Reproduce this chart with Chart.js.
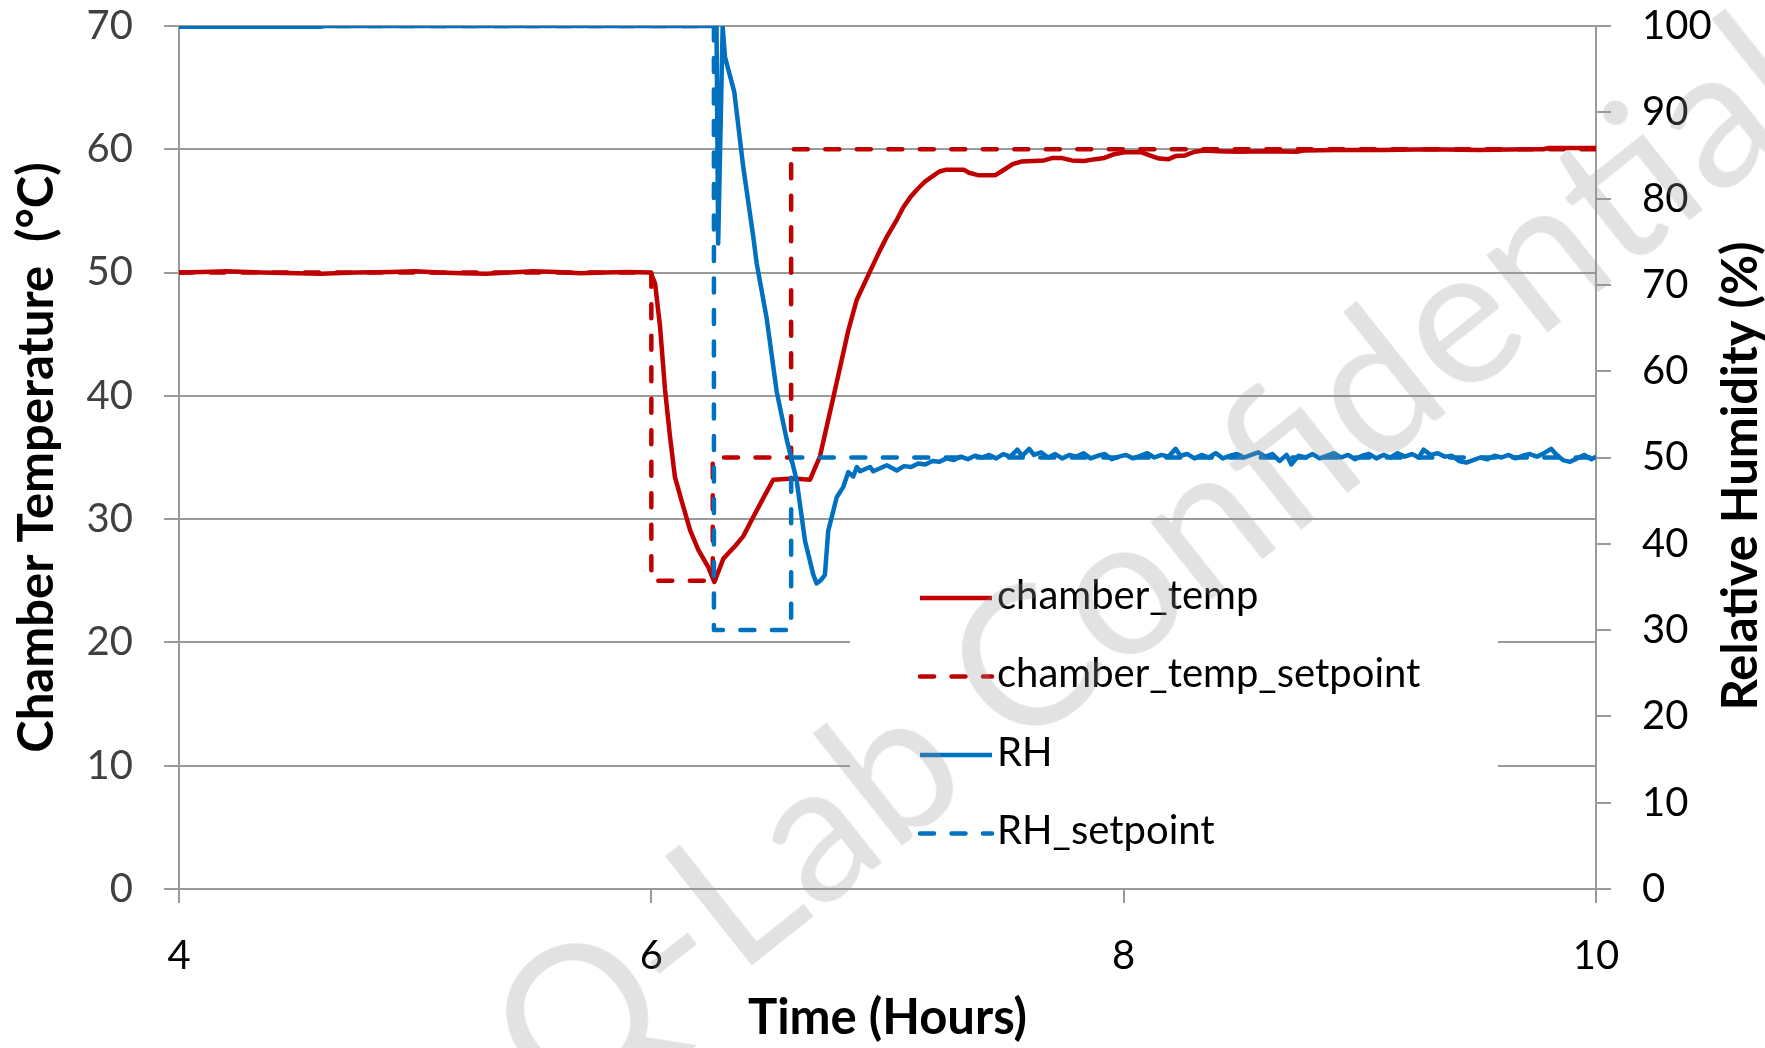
<!DOCTYPE html>
<html>
<head>
<meta charset="utf-8">
<title>Chamber temperature and relative humidity</title>
<script src="https://cdn.jsdelivr.net/npm/chart.js@4.4.1/dist/chart.umd.min.js"></script>
<style>
  html, body { margin: 0; padding: 0; background: #ffffff; }
  #wrap { position: relative; width: 1765px; height: 1048px; overflow: hidden; }
  #c { display: block; }
  #watermark {
    position: absolute; left: 1146px; top: 556px;
    transform: translate(-50%, -50%) rotate(-38.5deg);
    font-family: Lato, sans-serif; font-size: 194px; line-height: 1;
    color: rgba(150, 150, 150, 0.28); white-space: nowrap; pointer-events: none;
  }
</style>
</head>
<body>
<div id="wrap">
  <canvas id="c" width="1765" height="1048"></canvas>
  <div id="watermark">Q-Lab Confidential</div>
</div>
<script>
// Series names, in legend order
const seriesNames = ['chamber_temp', 'chamber_temp_setpoint', 'RH', 'RH_setpoint'];

// Measured chamber temperature (°C) against elapsed time (hours)
const tempTime = [
  4.00, 4.10, 4.20, 4.35, 4.50, 4.60, 4.75, 4.90, 5.00, 5.10, 5.20, 5.30, 5.40, 5.50, 5.60, 5.70, 5.80, 5.90,
  5.997, 6.016, 6.037, 6.058, 6.079, 6.100, 6.128, 6.164, 6.199, 6.241, 6.267, 6.305, 6.354, 6.389, 6.432,
  6.474, 6.516, 6.601, 6.672, 6.714, 6.771, 6.834, 6.870, 6.926, 6.968, 7.000, 7.040, 7.067, 7.100, 7.128,
  7.160, 7.190, 7.220, 7.250, 7.323, 7.345, 7.383, 7.457, 7.490, 7.530, 7.566, 7.663, 7.700, 7.735, 7.780,
  7.832, 7.880, 7.918, 7.960, 8.003, 8.076, 8.110, 8.150, 8.190, 8.220, 8.260, 8.300, 8.343, 8.400, 8.489,
  8.600, 8.733, 8.760, 8.900, 9.100, 9.300, 9.500, 9.700, 9.777, 9.800, 10.00
];
const tempVal = [
  50.0, 50.05, 50.1, 50.0, 49.95, 49.9, 50.0, 50.05, 50.1, 50.0, 49.95, 49.9, 50.0, 50.1, 50.05, 49.95, 50.0, 50.05,
  50.0, 49.1, 45.6, 40.5, 36.7, 33.4, 31.5, 29.1, 27.5, 26.1, 24.9, 26.8, 27.8, 28.6, 30.2,
  31.7, 33.2, 33.3, 33.2, 35.1, 39.9, 45.3, 47.8, 50.1, 51.8, 53.0, 54.3, 55.3, 56.2, 56.8,
  57.4, 57.8, 58.2, 58.35, 58.35, 58.1, 57.9, 57.9, 58.3, 58.8, 59.0, 59.1, 59.3, 59.3, 59.1,
  59.05, 59.2, 59.3, 59.6, 59.75, 59.75, 59.5, 59.25, 59.2, 59.45, 59.5, 59.8, 59.9, 59.85, 59.8,
  59.85, 59.8, 59.9, 59.95, 59.95, 60.0, 59.95, 60.0, 60.0, 60.1, 60.1
];

// Temperature setpoint (°C): value held from each time until the next one
const spTempTime = [4.0, 6.0, 6.26, 6.592, 10.0];
const spTempVal  = [50, 25, 35, 60, 60];

// Measured relative humidity (%) against elapsed time (hours)
const rhTime = [
  4.00, 4.60, 4.62, 6.276, 6.283, 6.302, 6.312, 6.351, 6.389, 6.432, 6.446, 6.488, 6.531, 6.573, 6.615, 6.651,
  6.686, 6.700, 6.718, 6.735, 6.749, 6.785, 6.813, 6.834, 6.855, 6.870, 6.884, 6.926, 6.940, 6.997, 7.039,
  7.07, 7.10, 7.13, 7.16, 7.19, 7.22, 7.25, 7.28, 7.31, 7.34, 7.37, 7.40, 7.43, 7.46, 7.49, 7.52, 7.55,
  7.57, 7.60, 7.62, 7.65, 7.68, 7.71, 7.74, 7.77, 7.80, 7.83, 7.86, 7.89, 7.92, 7.95, 7.98, 8.01, 8.04,
  8.07, 8.10, 8.13, 8.16, 8.19, 8.22, 8.24, 8.27, 8.30, 8.33, 8.36, 8.39, 8.42, 8.45, 8.48, 8.51, 8.54,
  8.57, 8.60, 8.63, 8.66, 8.69, 8.71, 8.74, 8.77, 8.80, 8.83, 8.86, 8.89, 8.92, 8.95, 8.98, 9.01, 9.04,
  9.07, 9.10, 9.13, 9.16, 9.19, 9.22, 9.25, 9.27, 9.30, 9.33, 9.36, 9.39, 9.42, 9.45, 9.48, 9.51, 9.54,
  9.57, 9.60, 9.63, 9.66, 9.69, 9.72, 9.75, 9.78, 9.81, 9.83, 9.86, 9.89, 9.92, 9.95, 9.98, 10.00
];
const rhVal = [
  99.9, 99.9, 100.0, 100.0, 74.8, 99.9, 96.4, 92.4, 83.7, 75.5, 72.5, 66.2, 57.6, 52.1, 47.4, 40.3,
  36.4, 35.4, 35.8, 36.4, 41.5, 45.4, 46.6, 48.3, 47.8, 48.9, 48.4, 48.9, 48.4, 49.1, 48.5,
  49.0, 48.9, 49.3, 49.2, 49.6, 49.5, 49.9, 49.7, 50.1, 49.8, 50.2, 50.0, 50.3, 49.9, 50.4, 50.1, 50.9,
  50.2, 51.0, 50.3, 50.6, 50.0, 50.4, 49.9, 50.3, 50.1, 50.5, 49.9, 50.2, 50.4, 49.8, 50.1, 50.3, 49.9,
  50.2, 50.5, 50.0, 50.3, 50.1, 51.0, 50.2, 50.4, 49.9, 50.3, 50.0, 50.5, 49.9, 50.2, 50.4, 50.0, 50.3,
  50.6, 50.1, 50.4, 49.6, 50.3, 49.2, 50.2, 50.0, 50.4, 49.9, 50.2, 50.5, 50.0, 50.3, 49.8, 50.2, 50.4,
  49.9, 50.3, 50.0, 50.5, 50.1, 50.4, 50.0, 50.9, 50.3, 50.5, 50.1, 50.2, 49.6, 49.4, 49.7, 50.0, 49.8,
  50.2, 50.0, 50.3, 49.9, 50.2, 50.4, 50.1, 50.5, 51.0, 50.4, 49.7, 49.5, 49.9, 50.3, 49.8, 50.1
];

// Relative humidity setpoint (%): value held from each time until the next one
const spRhTime = [4.0, 6.265, 6.592, 10.0];
const spRhVal  = [100, 30, 50, 50];

// Axis ranges and tick spacing
const timeRange = [4, 10], timeStep = 2;
const tempRange = [0, 70], tempStep = 10;
const rhRange   = [0, 100], rhStep = 10;

const RED = '#C00000';
const BLUE = '#0070C0';
const AXIS_GREY = '#9a9a9a';
const FONT = 'Lato, "Open Sans", sans-serif';
const TITLE_SIZE = 49;

const toPoints = (xs, ys) => xs.map((x, i) => ({ x: x, y: ys[i] }));

// Keep the plot area fixed: axis box sizes set, label overhang padding dropped
const fixBox = (size) => (s) => {
  if (s.isHorizontal()) { s.height = size; } else { s.width = size; }
  s.paddingTop = 0; s.paddingBottom = 0; s.paddingLeft = 0; s.paddingRight = 0;
};

// Legend drawn inside the plot on a white panel
const insideLegend = {
  id: 'insideLegend',
  afterDatasetsDraw(chart) {
    const ctx = chart.ctx;
    const box = { left: 850, top: 528, right: 1498, bottom: 886 };
    ctx.save();
    ctx.fillStyle = '#ffffff';
    ctx.fillRect(box.left, box.top, box.right - box.left, box.bottom - box.top);
    const rowY0 = 598, rowGap = 78.5, lineX0 = 920, lineX1 = 992, textX = 997, fontSize = 40;
    ctx.font = '400 ' + fontSize + 'px ' + FONT;
    chart.data.datasets.forEach((ds, i) => {
      const y = rowY0 + i * rowGap;
      ctx.beginPath();
      ctx.strokeStyle = ds.borderColor;
      ctx.lineWidth = ds.borderWidth;
      ctx.lineCap = ds.borderDash && ds.borderDash.length ? 'round' : 'butt';
      ctx.setLineDash(ds.borderDash || []);
      ctx.moveTo(lineX0, y);
      ctx.lineTo(lineX1, y);
      ctx.stroke();
      ctx.setLineDash([]);
      ctx.fillStyle = '#000000';
      ctx.textAlign = 'left';
      ctx.textBaseline = 'alphabetic';
      ctx.fillText(ds.label, textX, y + fontSize * 0.27);
    });
    ctx.restore();
  }
};

// Secondary axis title, read from bottom to top
const rightAxisTitle = {
  id: 'rightAxisTitle',
  afterDraw(chart) {
    const ctx = chart.ctx;
    ctx.save();
    ctx.translate(1741, 476);
    ctx.rotate(-Math.PI / 2);
    ctx.font = '700 ' + TITLE_SIZE + 'px ' + FONT;
    ctx.fillStyle = '#000000';
    ctx.textAlign = 'center';
    ctx.textBaseline = 'middle';
    ctx.fillText('Relative Humidity (%)', 0, 0);
    ctx.restore();
  }
};

function draw() {
  Chart.defaults.font.family = FONT;
  const ctx = document.getElementById('c').getContext('2d');
  new Chart(ctx, {
    type: 'line',
    data: {
      datasets: [
        { label: seriesNames[0], data: toPoints(tempTime, tempVal), yAxisID: 'y',
          borderColor: RED, borderWidth: 4.5, order: 3 },
        { label: seriesNames[1], data: toPoints(spTempTime, spTempVal), yAxisID: 'y',
          borderColor: RED, borderWidth: 4.5, borderDash: [14, 17.5], borderCapStyle: 'round',
          stepped: 'before', order: 2 },
        { label: seriesNames[2], data: toPoints(rhTime, rhVal), yAxisID: 'y1',
          borderColor: BLUE, borderWidth: 4.5, order: 1 },
        { label: seriesNames[3], data: toPoints(spRhTime, spRhVal), yAxisID: 'y1',
          borderColor: BLUE, borderWidth: 4.5, borderDash: [14, 17.5], borderCapStyle: 'round',
          stepped: 'before', order: 0 }
      ]
    },
    options: {
      responsive: false,
      animation: false,
      events: [],
      layout: { padding: { top: 26, left: 0, right: 0, bottom: 0 } },
      elements: {
        point: { radius: 0 },
        line: { tension: 0, borderJoinStyle: 'round', fill: false }
      },
      plugins: { legend: { display: false }, tooltip: { enabled: false } },
      scales: {
        x: {
          type: 'linear', position: 'bottom',
          min: timeRange[0], max: timeRange[1],
          afterFit: fixBox(159),
          ticks: { stepSize: timeStep, color: '#000000', padding: 29,
                   font: { size: 40 }, callback: (v) => String(v) },
          grid: { drawOnChartArea: false, drawTicks: true, tickLength: 14,
                  color: AXIS_GREY, lineWidth: 2 },
          border: { color: AXIS_GREY, width: 2 },
          title: { display: true, text: 'Time (Hours)', color: '#000000',
                   font: { size: TITLE_SIZE, weight: 'bold' }, padding: { top: 0, bottom: 0 } }
        },
        y: {
          type: 'linear', position: 'left',
          min: tempRange[0], max: tempRange[1],
          afterFit: fixBox(179),
          ticks: { stepSize: tempStep, color: '#404040', padding: 31, font: { size: 40 } },
          grid: { drawOnChartArea: true, drawTicks: true, tickLength: 15,
                  color: AXIS_GREY, lineWidth: 2 },
          border: { color: AXIS_GREY, width: 2 },
          title: { display: true, text: 'Chamber Temperature  (°C)', color: '#000000',
                   font: { size: TITLE_SIZE, weight: 'bold' }, padding: { top: 8, bottom: 0 } }
        },
        y1: {
          type: 'linear', position: 'right',
          min: rhRange[0], max: rhRange[1],
          afterFit: fixBox(169),
          ticks: { stepSize: rhStep, color: '#000000', padding: 31, font: { size: 40 } },
          grid: { drawOnChartArea: false, drawTicks: true, tickLength: 15,
                  color: AXIS_GREY, lineWidth: 2 },
          border: { color: AXIS_GREY, width: 2 }
        }
      }
    },
    plugins: [insideLegend, rightAxisTitle]
  });
}

const fontLoads = ['400 40px Lato', '700 49px Lato'].map((f) => document.fonts.load(f));
Promise.all(fontLoads).then(draw, draw);
</script>
</body>
</html>
